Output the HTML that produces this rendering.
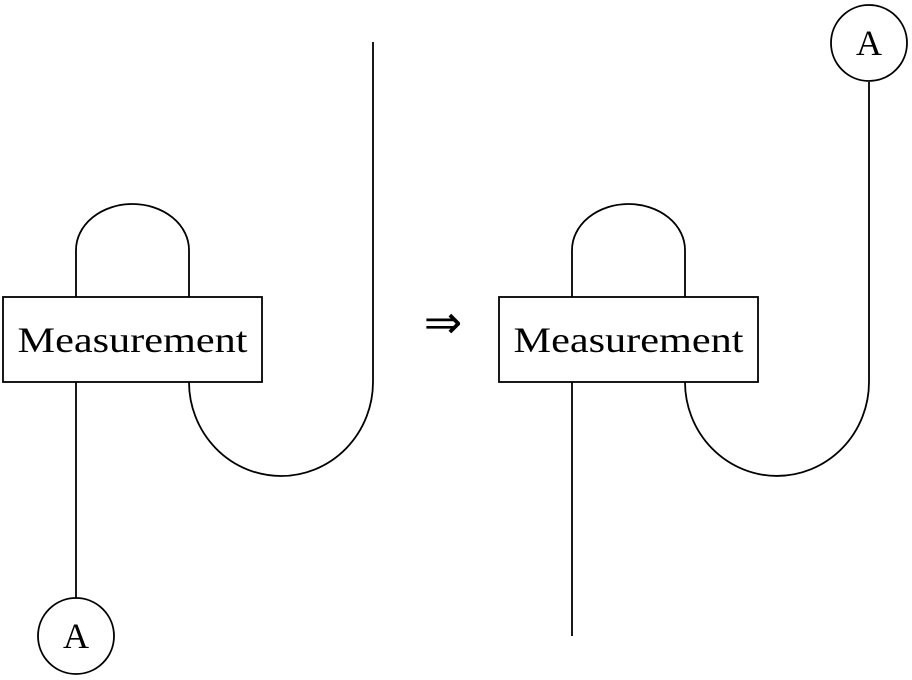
<!DOCTYPE html>
<html><head><meta charset="utf-8"><style>html,body{margin:0;padding:0;background:#fff}svg{display:block}</style></head>
<body>
<svg width="912" height="680" viewBox="0 0 912 680" xmlns="http://www.w3.org/2000/svg">
<g fill="none" stroke="#000" stroke-width="1.8">
<rect x="3" y="297" width="259" height="85"/>
<path d="M76 297 V250 A56.5 46 0 0 1 189 250 V297"/>
<path d="M76 382 V598"/>
<circle cx="76" cy="636" r="38"/>
<path d="M189 382 A92 94 0 0 0 373 382 V42"/>
<rect x="499" y="297" width="259" height="85"/>
<path d="M572 297 V250 A56.5 46 0 0 1 685 250 V297"/>
<path d="M572 382 V636"/>
<path d="M685 382 A92 94 0 0 0 869 382 V82"/>
<circle cx="869" cy="43" r="38"/>
</g>
<g font-family="Liberation Serif, serif" font-size="36" fill="#000" text-anchor="middle">
<text x="132.5" y="352" textLength="230" lengthAdjust="spacingAndGlyphs">Measurement</text>
<text x="628.5" y="352" textLength="230" lengthAdjust="spacingAndGlyphs">Measurement</text>
<text x="76" y="648">A</text>
<text x="869" y="55">A</text>
<text x="443" y="338" font-size="46">⇒</text>
</g>
</svg>
</body></html>
